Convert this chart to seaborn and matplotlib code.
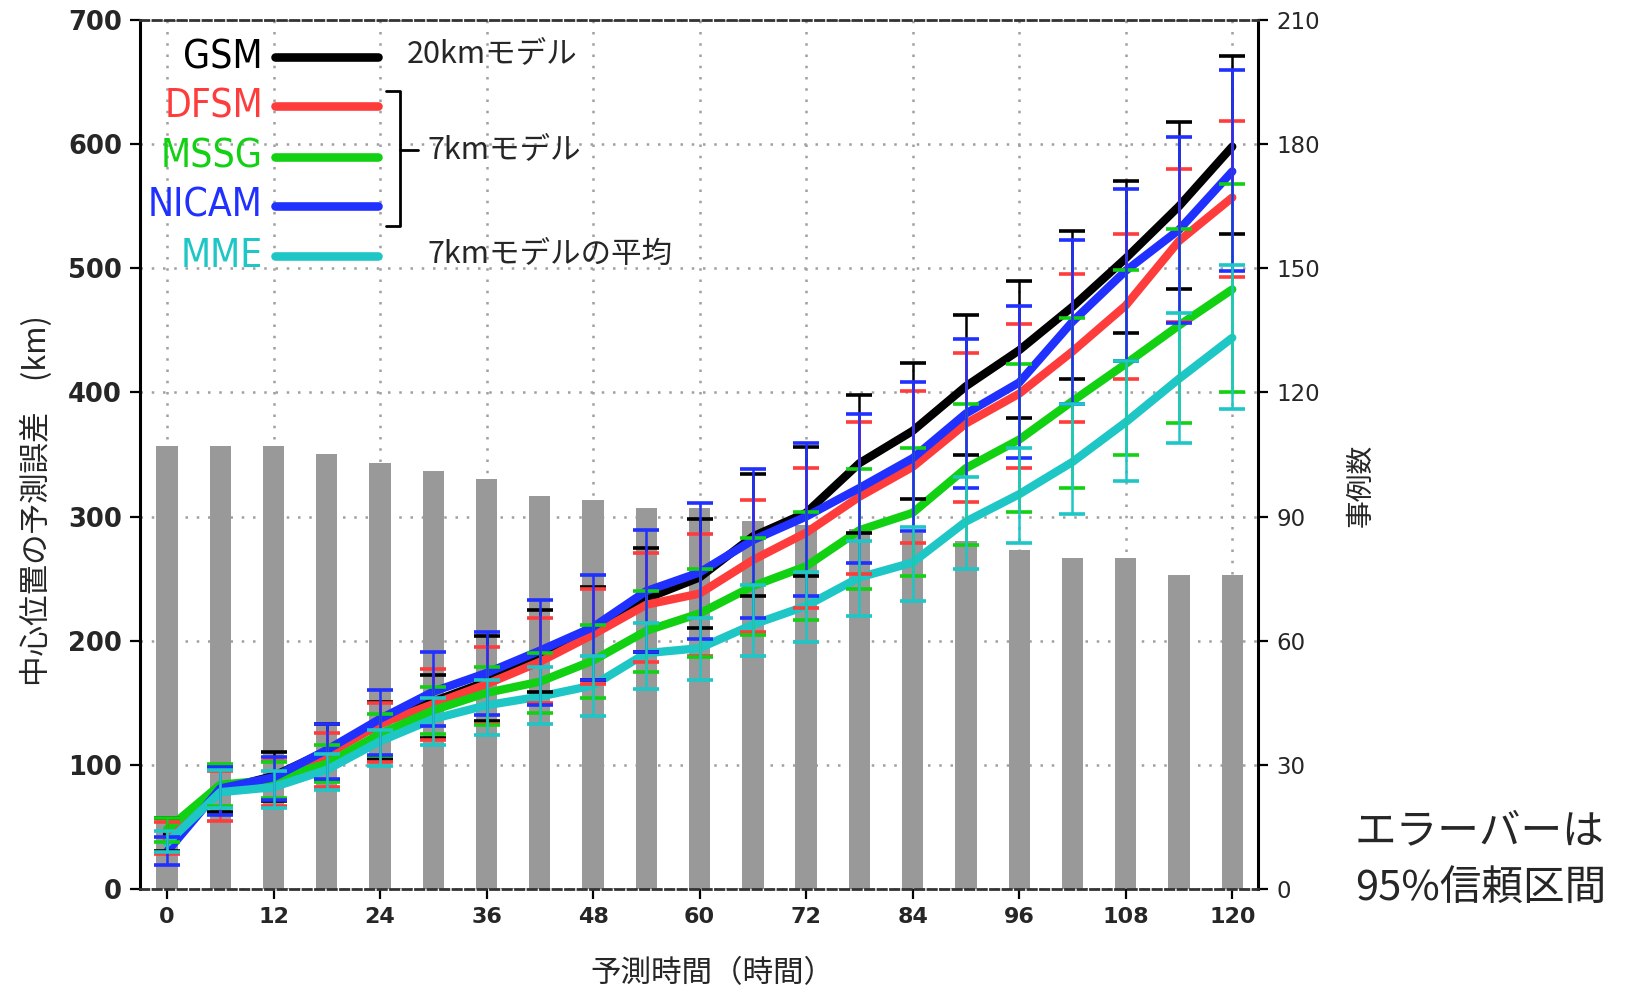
import numpy as np
import pandas as pd
import matplotlib
matplotlib.use("Agg")
import matplotlib.pyplot as plt
import seaborn as sns
from matplotlib import font_manager
from matplotlib.lines import Line2D

# ---------------- data ----------------
hours = list(range(0, 121, 6))
cases = [107, 107, 107, 105, 103, 101, 99, 95, 94, 92, 92, 89, 88, 87, 86, 84, 82, 80, 80, 76, 76]

gsm = [44, 80, 91, 111, 134, 151, 167, 190, 208, 234, 251, 284, 303, 343, 369, 405, 434, 469, 508, 550, 598]
gsm_hi = [57, 97, 110, 133, 151, 172, 204, 225, 243, 275, 298, 334, 356, 398, 424, 462, 490, 530, 570, 618, 671]
gsm_lo = [31, 62, 71, 88, 105, 122, 135, 159, 168, 191, 210, 236, 252, 287, 314, 350, 379, 411, 448, 483, 528]

dfsm = [40, 80, 86, 108, 133, 149, 165, 183, 205, 229, 238, 265, 287, 316, 340, 375, 399, 433, 470, 522, 557]
dfsm_hi = [54, 95, 103, 126, 150, 177, 195, 218, 242, 271, 286, 313, 339, 376, 401, 432, 455, 495, 528, 580, 619]
dfsm_lo = [28, 55, 67, 82, 102, 120, 133, 150, 165, 183, 188, 207, 226, 254, 279, 312, 339, 376, 411, 457, 493]

mssg = [48, 84, 88, 101, 125, 144, 158, 167, 184, 208, 222, 244, 260, 289, 303, 339, 362, 393, 423, 454, 483]
mssg_hi = [57, 101, 102, 116, 141, 163, 179, 190, 213, 240, 258, 283, 304, 338, 355, 391, 423, 460, 499, 532, 568]
mssg_lo = [38, 67, 73, 86, 107, 125, 132, 142, 154, 175, 187, 205, 217, 242, 252, 277, 304, 323, 350, 375, 400]

nicam = [30, 81, 90, 112, 137, 159, 174, 192, 211, 240, 255, 281, 300, 323, 347, 383, 408, 457, 498, 531, 578]
nicam_hi = [42, 98, 106, 133, 160, 191, 207, 233, 253, 289, 311, 338, 359, 383, 408, 443, 470, 523, 564, 606, 660]
nicam_lo = [19, 60, 72, 89, 108, 131, 140, 148, 168, 191, 201, 218, 236, 263, 288, 323, 347, 391, 425, 456, 498]

mme = [37, 78, 82, 96, 119, 137, 148, 155, 164, 190, 194, 213, 228, 251, 263, 296, 318, 344, 376, 411, 444]
mme_hi = [47, 96, 95, 109, 128, 154, 168, 179, 188, 214, 218, 245, 255, 280, 292, 332, 355, 391, 425, 464, 503]
mme_lo = [30, 65, 65, 80, 99, 116, 124, 133, 139, 161, 168, 188, 199, 220, 232, 258, 279, 302, 329, 359, 387]

models = ["GSM", "DFSM", "MSSG", "NICAM", "MME"]
series = {
    "GSM": (gsm, gsm_lo, gsm_hi),
    "DFSM": (dfsm, dfsm_lo, dfsm_hi),
    "MSSG": (mssg, mssg_lo, mssg_hi),
    "NICAM": (nicam, nicam_lo, nicam_hi),
    "MME": (mme, mme_lo, mme_hi),
}
colors = {"GSM": "#000000", "DFSM": "#ff3c3c", "MSSG": "#12d012",
          "NICAM": "#2030ff", "MME": "#1ec6c6"}

xticks = list(range(0, 121, 12))
yticks_left = list(range(0, 701, 100))
yticks_right = list(range(0, 211, 30))

# ---------------- style ----------------
sns.set_theme(style="white")
plt.rcParams["font.family"] = ["Noto Sans CJK JP", "DejaVu Sans"]

names = {f.name for f in font_manager.fontManager.ttflist}
if "Liberation Sans Narrow" in names:
    narrow = dict(family=["Liberation Sans Narrow", "DejaVu Sans"], fontsize=31)
else:
    narrow = dict(family=["DejaVu Sans"], fontstretch="condensed", fontsize=28)

fig = plt.figure(figsize=(16.37, 9.91), dpi=100)
ax = fig.add_axes([140 / 1637, 1 - 889 / 991, 1118 / 1637, 869 / 991])
ax2 = ax.twinx()
ax.set_zorder(ax2.get_zorder() + 1)
ax.patch.set_visible(False)
ax2.patch.set_visible(True)
ax2.patch.set_facecolor("white")

# bars (case counts) on right axis
sns.barplot(x=hours, y=cases, native_scale=True, color="#999999", saturation=1,
            width=0.4, linewidth=0, ax=ax2, zorder=2)

# lines
long = pd.DataFrame({
    "hour": np.tile(hours, len(models)),
    "err": np.concatenate([series[m][0] for m in models]),
    "model": np.repeat(models, len(hours)),
})
sns.lineplot(data=long, x="hour", y="err", hue="model", hue_order=models,
             palette=colors, linewidth=6.0, legend=False, ax=ax, zorder=2)

for m in models:
    v, lo, hi = (np.array(a) for a in series[m])
    ax.errorbar(hours, v, yerr=[v - lo, hi - v], fmt="none", ecolor=colors[m],
                elinewidth=1.8, capsize=9.5, capthick=2.6, zorder=3)

# axes limits / ticks
ax.set_xlim(-3.04, 122.9)
ax.set_ylim(0, 700)
ax2.set_ylim(0, 210)
ax.set_xticks(xticks)
ax.set_yticks(yticks_left)
ax2.set_yticks(yticks_right)
ax.set_xticklabels([str(t) for t in xticks])
ax.set_yticklabels([str(t) for t in yticks_left])
ax2.set_yticklabels([str(t) for t in yticks_right])

for lab in ax.get_yticklabels():
    lab.set_fontfamily("DejaVu Sans")
    lab.set_fontweight("bold")
    lab.set_fontsize(18.5)
for lab in ax.get_xticklabels():
    lab.set_fontfamily("DejaVu Sans")
    lab.set_fontweight("bold")
    lab.set_fontsize(16)
for lab in ax2.get_yticklabels():
    lab.set_fontfamily("DejaVu Sans")
    lab.set_fontsize(16.5)

ax.tick_params(axis="both", direction="out", length=7, width=1.6, color="black", pad=6)
ax.tick_params(axis="y", left=True, right=False)
ax.tick_params(axis="x", bottom=True, top=False)
ax2.tick_params(axis="y", right=True, direction="out", length=7, width=1.6, color="black", pad=6)

# grid behind bars
ax2.xaxis.set_visible(True)
ax2.tick_params(axis="x", which="both", bottom=False, top=False, labelbottom=False, labeltop=False)
ax2.set_axisbelow(True)
ax2.grid(True, axis="both", linestyle=(0, (1, 3.5)), color="#a0a0a0", linewidth=1.8)
ax.grid(False)

for s in ax2.spines.values():
    s.set_visible(False)
for side in ["left", "right"]:
    ax.spines[side].set_color("black")
    ax.spines[side].set_linewidth(2.2)
for side in ["top", "bottom"]:
    ax.spines[side].set_color("#333333")
    ax.spines[side].set_linewidth(2.0)
    ax.spines[side].set_linestyle((0, (3, 1.5)))

# labels
ax.set_xlabel("予測時間（時間）", fontsize=22)
ax.xaxis.set_label_coords(0.512, -0.097)
ax.xaxis.label.set_va("center")
ax.set_ylabel("中心位置の予測誤差　(km)", fontsize=22)
ax.yaxis.set_label_coords(-0.0926, 0.4465)
ax.yaxis.label.set_va("center")
ax2.set_ylabel("事例数", fontsize=20)
ax2.yaxis.set_label_coords(1.092, 0.4643)
ax2.yaxis.label.set_va("center")
ax2.yaxis.label.set_rotation(90)

# in-plot legend
leg_y = [0.9574, 0.9005, 0.8424, 0.7860, 0.7284]
for m, yy in zip(models, leg_y):
    ax.text(0.110, yy, m, transform=ax.transAxes, color=colors[m], ha="right", va="center", **narrow)
    ax.add_line(Line2D([0.1208, 0.2129], [yy, yy], transform=ax.transAxes,
                       color=colors[m], lw=6.2, solid_capstyle="round", zorder=5))

ax.text(0.2388, 0.9609, "20kmモデル", transform=ax.transAxes, fontsize=22, ha="left", va="center")
ax.text(0.2576, 0.8504, "7kmモデル", transform=ax.transAxes, fontsize=22, ha="left", va="center")
ax.text(0.2576, 0.7307, "7kmモデルの平均", transform=ax.transAxes, fontsize=22, ha="left", va="center")

bx0, bx1, btop, bbot, bmid = 0.2200, 0.2326, 0.9183, 0.7630, 0.8504
ax.add_line(Line2D([bx0, bx1, bx1, bx0], [btop, btop, bbot, bbot], transform=ax.transAxes,
                   color="black", lw=2.0, zorder=5))
ax.add_line(Line2D([bx1, 0.2487], [bmid, bmid], transform=ax.transAxes,
                   color="black", lw=2.0, zorder=5))

fig.text(1355 / 1637, 1 - 832 / 991, "エラーバーは", fontsize=30, ha="left", va="center")
fig.text(1355 / 1637, 1 - 888 / 991, "95%信頼区間", fontsize=30, ha="left", va="center")

fig.savefig("out.png", dpi=100, facecolor="white")
